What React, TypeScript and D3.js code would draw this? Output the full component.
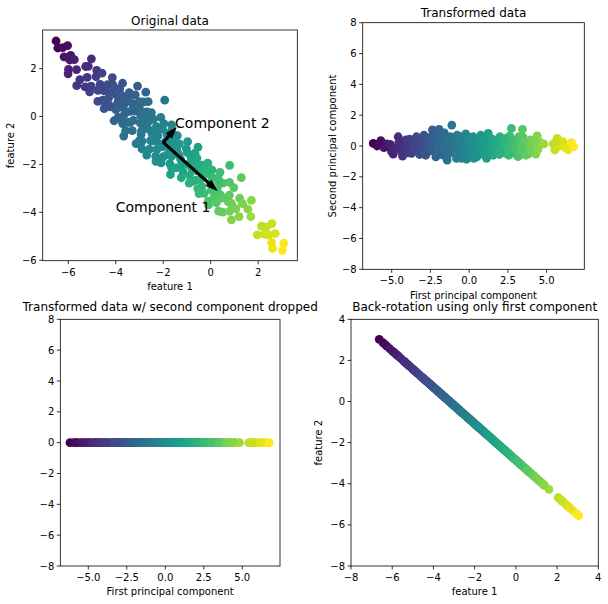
import * as d3 from 'd3';
import React from 'react';

const firstComponent = [
  -6.19, -5.94, -5.7, -5.33, -5.23, -5.01, -4.9, -4.58, -4.47, -4.37, -4.3, -4.09, -3.94, -3.83, -3.72,
  -3.4, -3.29, -3.18, -3.08, -2.92, -2.75, -2.65, -2.37, -2.32, -2.22, -2.11, -1.94, -1.89, -1.78, -1.68,
  -1.51, -1.42, -1.35, -1.25, -1.12, -1.03, -0.92, -0.82, -0.77, -0.6, -0.49, -0.39, -0.22, -0.17, -0.06,
  0.15, 0.26, 0.3, 0.47, 0.58, 0.8, 1.01, 1.12, 1.23, 1.33, 1.44, 1.66, 1.87, 1.98, 2.09,
  2.19, 2.37, 2.52, 2.62, 2.73, 2.84, 3.01, 3.05, 3.16, 3.27, 3.44, 3.48, 3.7, 3.81, 3.96,
  4.13, 4.3, 4.39, 4.52, 4.82, 5.42, 5.53, 5.68, 5.74, 6.06, 6.39, 6.6, 6.75,
  -3.6, -3.5, -3.35, -3.2, -3.0, -2.95, -2.85, -2.8, -2.6, -2.5, -2.45, -2.4, -2.3, -2.15, -2.05,
  -2.0, -1.9, -1.8, -1.7, -1.6, -1.55, -1.45, -1.3, -1.2, -1.15, -1.0, -0.95, -0.85, -0.7, -0.65,
  -0.5, -0.45, -0.35, -0.25, -0.1, 0.0, 0.05, 0.15, 0.2, 0.35, 0.4, 0.55, 0.65, 0.75, 0.85,
  0.95, 1.05, 1.2, 1.3, 1.4, 1.55, 1.6, 1.75, 1.85, 1.95, 2.05, 2.2, 2.3, 2.45, 2.6,
  2.7, 2.9, 3.1, 3.2, 3.35, 3.55, 3.65, 3.85, 4.0, 4.2, 4.45,
  -5.8, -5.5, -5.1, -4.75, -4.55, -4.2, -4.0, -3.85, 5.9, 6.2, 5.6,
  -3.1, -2.7, -2.2, -1.95, -1.6, -1.4, -1.05, -0.8, -0.55, -0.3, -0.05, 0.1, 0.3, 0.5, 0.7,
  0.9, 1.1, 1.5, 1.7, 2.0, 2.25, 2.55, 2.75, 3.0, 3.4, -2.55, -2.9, -3.3, -1.75, -1.25,
];
const secondComponent = [
  0.17, 0.0, 0.35, 0.13, -0.04, -0.37, -0.52, 0.6, 0.28, -0.37, -0.65, 0.39, 0.17, -0.26, -0.48,
  0.6, -0.04, 0.39, -0.37, 0.71, 0.17, -0.37, 1.04, 0.39, -0.04, -0.48, 1.08, 0.6, 0.17, -0.37,
  -0.69, -0.91, 0.5, -0.04, 1.36, 0.28, -0.37, -0.8, 0.71, -0.04, -0.8, 0.39, 0.78, -0.86, -0.15,
  0.28, 0.6, -0.8, -0.26, 0.17, -0.48, -0.04, -0.8, 0.82, 0.28, -0.37, -0.04, 0.39, 0.6, -0.26,
  0.06, -0.48, 0.28, 0.65, 1.14, -0.15, 0.39, -0.58, -0.69, -0.04, 1.08, 0.56, -0.04, -0.52, 0.39,
  -0.04, -0.52, 0.65, 0.28, 0.13, 0.13, -0.26, 0.5, -0.04, 0.28, -0.26, 0.22, -0.04,
  0.05, -0.2, 0.25, -0.55, 0.1, -0.15, 0.45, -0.6, 0.3, -0.1, 0.6, -0.3, 0.15, -0.7, 0.35,
  -0.2, 0.05, -0.55, 0.4, 0.85, -0.15, 0.2, -0.5, 0.6, 0.1, -0.25, 0.45, 0.0, -0.55, 0.3,
  0.6, -0.3, 0.05, -0.6, 0.35, -0.4, 0.1, -0.65, 0.55, 0.0, -0.45, 0.4, -0.2, 0.7, 0.05,
  -0.55, 0.35, -0.2, 0.55, 0.0, -0.6, 0.3, -0.3, 0.05, -0.55, 0.3, -0.1, 0.5, -0.3, 0.05,
  -0.45, 0.25, -0.25, 0.6, -0.4, 0.2, -0.6, 0.0, -0.3, 0.3, -0.2,
  0.15, -0.1, 0.1, -0.15, 0.2, -0.1, -0.45, 0.45, 0.05, -0.1, 0.25,
  0.35, -0.35, 0.7, -0.45, -0.3, 0.45, 0.0, -0.6, 0.15, -0.2, 0.55, -0.15, 0.3, -0.7, 0.1,
  0.45, -0.45, 0.45, 0.15, -0.4, 0.25, -0.6, 0.4, 0.05, -0.1, 0.0, -0.4, 0.05, 0.7, 0.3,
];

const pcaMean = [-2.0, -1.08];
const pcaComponents = [
  [0.748, -0.663],
  [0.663, 0.748],
];
const componentStd = [2.57, 0.37];

const originalTicks = [-6, -4, -2, 0, 2];
const pcTicksX = [-5, -2.5, 0, 2.5, 5];
const pcTicksY = [-8, -6, -4, -2, 0, 2, 4, 6, 8];
const backTicks = [-8, -6, -4, -2, 0, 2, 4];

const FONT = 'DejaVu Sans, sans-serif';
const fmtMinus = (s) => s.replace('-', '\u2212');

const color = d3.scaleSequential(d3.interpolateViridis).domain(d3.extent(firstComponent));

const original = firstComponent.map((p1, i) => [
  pcaMean[0] + p1 * pcaComponents[0][0] + secondComponent[i] * pcaComponents[1][0],
  pcaMean[1] + p1 * pcaComponents[0][1] + secondComponent[i] * pcaComponents[1][1],
]);
const transformed = firstComponent.map((p1, i) => [p1, secondComponent[i]]);
const dropped = firstComponent.map((p1) => [p1, 0]);
const backRotated = firstComponent.map((p1) => [
  pcaMean[0] + p1 * pcaComponents[0][0],
  pcaMean[1] + p1 * pcaComponents[0][1],
]);

// matplotlib style FancyArrow polygon in data coords
const arrowPolygon = (x0, y0, dx, dy, width, headWidth) => {
  const headLength = 1.5 * headWidth;
  const dist = Math.hypot(dx, dy);
  const ux = dx / dist;
  const uy = dy / dist;
  const nx = -uy;
  const ny = ux;
  const local = [
    [0, width / 2], [dist, width / 2], [dist, headWidth / 2], [dist + headLength, 0],
    [dist, -headWidth / 2], [dist, -width / 2], [0, -width / 2],
  ];
  return local.map(([a, b]) => [x0 + a * ux + b * nx, y0 + a * uy + b * ny]);
};

const Panel = ({ id, frame, xDomain, yDomain, xTicks, yTicks, xFormat, yFormat, title, titleY, xLabel, xLabelY, yLabel, yLabelX, points, children }) => {
  const [left, top, right, bottom] = frame;
  const x = d3.scaleLinear().domain(xDomain).range([left, right]);
  const y = d3.scaleLinear().domain(yDomain).range([bottom, top]);
  return (
    <g>
      <defs>
        <clipPath id={id}>
          <rect x={left} y={top} width={right - left} height={bottom - top} />
        </clipPath>
      </defs>
      <g clipPath={`url(#${id})`}>
        {points.map((p, i) => (
          <circle key={i} cx={x(p[0])} cy={y(p[1])} r={4.4} fill={color(firstComponent[i])} />
        ))}
      </g>
      {children && children(x, y)}
      <rect x={left} y={top} width={right - left} height={bottom - top} fill="none" stroke="#000" strokeWidth={0.8} />
      {xTicks.map((t) => (
        <g key={'x' + t}>
          <line x1={x(t)} x2={x(t)} y1={bottom} y2={bottom + 3.5} stroke="#000" strokeWidth={0.8} />
          <text x={x(t)} y={bottom + 15} textAnchor="middle" fontSize={10} fontFamily={FONT}>
            {fmtMinus(xFormat(t))}
          </text>
        </g>
      ))}
      {yTicks.map((t) => (
        <g key={'y' + t}>
          <line x1={left - 3.5} x2={left} y1={y(t)} y2={y(t)} stroke="#000" strokeWidth={0.8} />
          <text x={left - 6} y={y(t)} dy="0.36em" textAnchor="end" fontSize={10} fontFamily={FONT}>
            {fmtMinus(yFormat(t))}
          </text>
        </g>
      ))}
      <text x={(left + right) / 2} y={titleY} textAnchor="middle" fontSize={12} fontFamily={FONT}>
        {title}
      </text>
      {xLabel && (
        <text x={(left + right) / 2} y={xLabelY} textAnchor="middle" fontSize={10} fontFamily={FONT}>
          {xLabel}
        </text>
      )}
      {yLabel && (
        <text
          transform={`translate(${yLabelX},${(top + bottom) / 2}) rotate(-90)`}
          textAnchor="middle"
          fontSize={10}
          fontFamily={FONT}
        >
          {yLabel}
        </text>
      )}
    </g>
  );
};

const intFmt = d3.format('d');
const oneDec = d3.format('.1f');

export default function App() {
  const arrows = (x, y) => {
    const polys = [0, 1].map((k) =>
      arrowPolygon(
        pcaMean[0], pcaMean[1],
        componentStd[k] * pcaComponents[k][0], componentStd[k] * pcaComponents[k][1],
        0.1, 0.3,
      ),
    );
    return (
      <g>
        {polys.map((poly, k) => (
          <polygon
            key={k}
            points={poly.map((p) => `${x(p[0])},${y(p[1])}`).join(' ')}
            fill="#000"
            stroke="#000"
            strokeWidth={1}
            strokeLinejoin="miter"
          />
        ))}
        <text x={x(-1.5)} y={y(-0.5)} fontSize={14} fontFamily={FONT}>Component 2</text>
        <text x={x(-4)} y={y(-4)} fontSize={14} fontFamily={FONT}>Component 1</text>
      </g>
    );
  };

  return (
    <svg width={608} height={604} style={{ position: 'absolute', left: 0, top: 0, background: '#fff' }}>
      <rect width={608} height={604} fill="#fff" />
      <Panel
        id="c0"
        frame={[42.7, 30, 297.3, 260.7]}
        xDomain={[-7.08, 3.65]}
        yDomain={[-6.02, 3.61]}
        xTicks={originalTicks}
        yTicks={originalTicks}
        xFormat={intFmt}
        yFormat={intFmt}
        title="Original data"
        titleY={25}
        xLabel="feature 1"
        xLabelY={290}
        yLabel="feature 2"
        yLabelX={14}
        points={original}
      >
        {arrows}
      </Panel>
      <Panel
        id="c1"
        frame={[362.7, 22.7, 584.3, 269.3]}
        xDomain={[-6.87, 7.43]}
        yDomain={[-8, 8]}
        xTicks={pcTicksX}
        yTicks={pcTicksY}
        xFormat={oneDec}
        yFormat={intFmt}
        title="Transformed data"
        titleY={17}
        xLabel="First principal component"
        xLabelY={299}
        yLabel="Second principal component"
        yLabelX={336}
        points={transformed}
      />
      <Panel
        id="c2"
        frame={[60.3, 319.3, 280, 566]}
        xDomain={[-6.82, 7.45]}
        yDomain={[-8, 8]}
        xTicks={pcTicksX}
        yTicks={pcTicksY}
        xFormat={oneDec}
        yFormat={intFmt}
        title="Transformed data w/ second component dropped"
        titleY={311}
        xLabel="First principal component"
        xLabelY={595}
        points={dropped}
      />
      <Panel
        id="c3"
        frame={[351, 319.3, 598.3, 566]}
        xDomain={[-8, 4]}
        yDomain={[-8, 4]}
        xTicks={backTicks}
        yTicks={backTicks}
        xFormat={intFmt}
        yFormat={intFmt}
        title="Back-rotation using only first component"
        titleY={311}
        xLabel="feature 1"
        xLabelY={595}
        yLabel="feature 2"
        yLabelX={322}
        points={backRotated}
      />
    </svg>
  );
}
